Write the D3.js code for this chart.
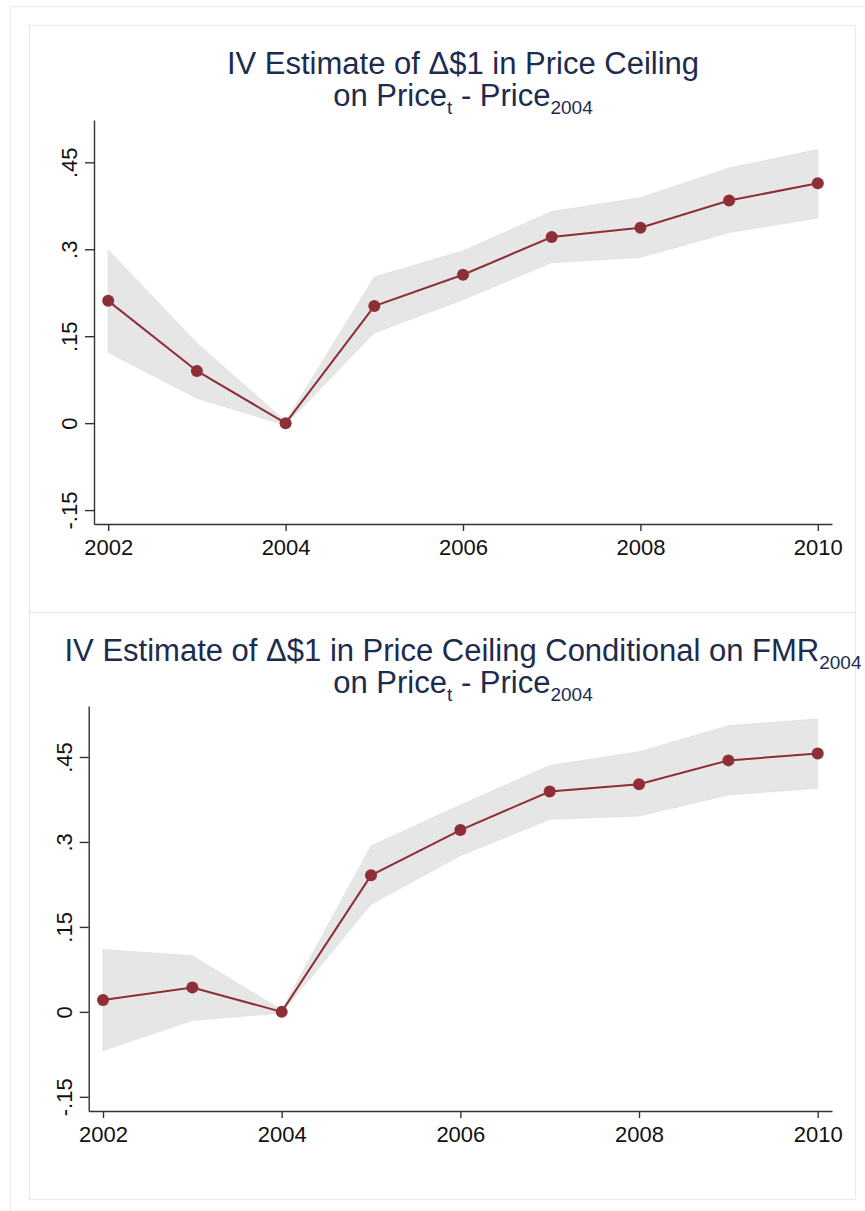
<!DOCTYPE html>
<html>
<head>
<meta charset="utf-8">
<title>IV estimates</title>
<script src="https://d3js.org/d3.v7.min.js"></script>
<style>
  body { margin: 0; background: #fff; }
  svg text { font-family: "Liberation Sans", Arial, Helvetica, sans-serif; }
</style>
</head>
<body>
<div id="chart"></div>
<script>
// dados
var anos = [2002, 2003, 2004, 2005, 2006, 2007, 2008, 2009, 2010];

var estTopo = [0.211, 0.090, 0.000, 0.202, 0.256, 0.321, 0.337, 0.384, 0.414];
var infTopo = [0.122, 0.043, -0.003, 0.156, 0.213, 0.277, 0.286, 0.329, 0.354];
var supTopo = [0.299, 0.138, 0.003, 0.252, 0.297, 0.365, 0.389, 0.440, 0.472];

var estBaixo = [0.021, 0.043, 0.000, 0.241, 0.321, 0.389, 0.402, 0.444, 0.456];
var infBaixo = [-0.068, -0.015, -0.002, 0.190, 0.276, 0.340, 0.346, 0.383, 0.395];
var supBaixo = [0.110, 0.099, 0.003, 0.293, 0.365, 0.435, 0.459, 0.505, 0.517];

var ticksY = [-0.15, 0, 0.15, 0.3, 0.45];
var rotulosY = ["-.15", "0", ".15", ".3", ".45"];
var ticksX = [2002, 2004, 2006, 2008, 2010];

var titulo1Topo = "IV Estimate of \u0394$1 in Price Ceiling";
var titulo1Baixo = "IV Estimate of \u0394$1 in Price Ceiling Conditional on FMR";

var largura = 865, altura = 1211;
var corLinha = "#8e2f38", corBanda = "#e6e6e6", corTitulo = "#1d2b4e";

var svg = d3.select("#chart").append("svg")
  .attr("width", largura).attr("height", altura);

svg.append("rect").attr("width", largura).attr("height", altura).attr("fill", "#fff");

// moldura externa
svg.append("rect")
  .attr("x", 10.5).attr("y", 6.5).attr("width", 870).attr("height", 1215)
  .attr("fill", "none").attr("stroke", "#ebeeee").attr("stroke-width", 1.2);

var paineis = [
  { topo: 25, est: estTopo, inf: infTopo, sup: supTopo, titulo: titulo1Topo, sub: false,
    x0: 94, y0: 524, y1: 120, dom: [-0.174, 0.523] },
  { topo: 612, est: estBaixo, inf: infBaixo, sup: supBaixo, titulo: titulo1Baixo, sub: true,
    x0: 88.7, y0: 1111, y1: 706, dom: [-0.175, 0.540] }
];

paineis.forEach(function(p) {
  // moldura do painel
  svg.append("rect")
    .attr("x", 29.5).attr("y", p.topo + 0.5).attr("width", 826).attr("height", 587)
    .attr("fill", "none").attr("stroke", "#e3ecee").attr("stroke-width", 1.2);

  var x = d3.scaleLinear().domain([2001.84, 2010.16]).range([p.x0, 832]);
  var y = d3.scaleLinear().domain(p.dom).range([p.y0, p.y1]);

  // titulo
  var t1 = svg.append("text")
    .attr("x", 463).attr("y", p.topo + 49)
    .attr("text-anchor", "middle")
    .attr("font-size", 31).attr("fill", corTitulo)
    .text(p.titulo);
  if (p.sub) {
    t1.append("tspan").attr("font-size", 19).attr("dy", 8).text("2004");
  }
  var t2 = svg.append("text")
    .attr("x", 463).attr("y", p.topo + 81)
    .attr("text-anchor", "middle")
    .attr("font-size", 31).attr("fill", corTitulo);
  t2.append("tspan").text("on Price");
  t2.append("tspan").attr("font-size", 19).attr("dy", 8).text("t");
  t2.append("tspan").attr("dy", -8).text(" - Price");
  t2.append("tspan").attr("font-size", 19).attr("dy", 8).text("2004");

  // banda do intervalo
  var area = d3.area()
    .x(function(d, i) { return x(anos[i]); })
    .y0(function(d, i) { return y(p.inf[i]); })
    .y1(function(d, i) { return y(p.sup[i]); });
  svg.append("path")
    .datum(anos)
    .attr("d", area)
    .attr("fill", corBanda)
    .attr("stroke", "#dedede").attr("stroke-width", 0.8);

  // linha e pontos
  var linha = d3.line()
    .x(function(d, i) { return x(anos[i]); })
    .y(function(d) { return y(d); });
  svg.append("path")
    .datum(p.est)
    .attr("d", linha)
    .attr("fill", "none").attr("stroke", corLinha).attr("stroke-width", 2);

  svg.selectAll(null)
    .data(p.est)
    .enter().append("circle")
    .attr("cx", function(d, i) { return x(anos[i]); })
    .attr("cy", function(d) { return y(d); })
    .attr("r", 6)
    .attr("fill", corLinha);

  // eixos
  var eixoY = svg.append("g")
    .attr("transform", "translate(" + p.x0 + ",0)")
    .call(d3.axisLeft(y).tickValues(ticksY).tickSize(9).tickSizeOuter(0)
      .tickFormat(function(d, i) { return rotulosY[i]; }));
  eixoY.selectAll("text")
    .attr("x", null).attr("dy", null)
    .attr("text-anchor", "middle")
    .attr("transform", "translate(-17,0) rotate(-90)");

  var eixoX = svg.append("g")
    .attr("transform", "translate(0," + p.y0 + ")")
    .call(d3.axisBottom(x).tickValues(ticksX).tickSize(7).tickSizeOuter(0).tickPadding(8.5)
      .tickFormat(d3.format("d")));

  [eixoY, eixoX].forEach(function(e) {
    e.selectAll("path, line").attr("stroke", "#333").attr("stroke-width", 1.4);
    e.selectAll("text").attr("font-size", 22).attr("fill", "#111")
      .style("font-family", "'Liberation Sans', Arial, sans-serif");
  });
});
</script>
</body>
</html>
